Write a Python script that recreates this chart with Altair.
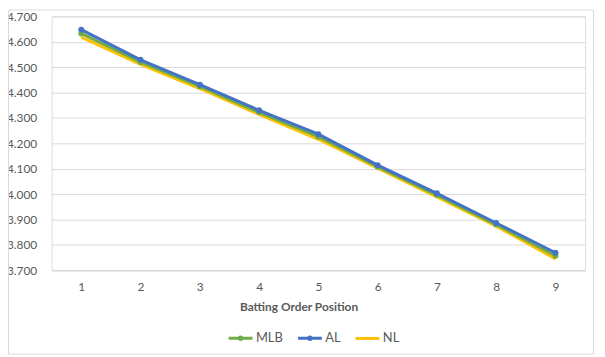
import altair as alt
import pandas as pd

positions = [1, 2, 3, 4, 5, 6, 7, 8, 9]
series_names = ["MLB", "AL", "NL"]
mlb = [4.633, 4.520, 4.424, 4.322, 4.226, 4.108, 3.996, 3.880, 3.757]
al = [4.648, 4.529, 4.431, 4.330, 4.236, 4.114, 4.003, 3.886, 3.769]
nl = [4.618, 4.511, 4.416, 4.314, 4.216, 4.102, 3.989, 3.874, 3.745]
colors = ["#70AD47", "#4472C4", "#FFC000"]

rows = []
for name, vals in zip(series_names, [mlb, al, nl]):
    for p, v in zip(positions, vals):
        rows.append({"pos": p, "value": v, "series": name})
df = pd.DataFrame(rows)

FONT = "Lato"
GRAY = "#595959"

circ = "M-1,0H1M0.11,0A0.11,0.11,0,1,1,-0.11,0A0.11,0.11,0,1,1,0.11,0Z"
plain = "M-1,0H1"

legend = alt.Legend(
    title=None,
    orient="none",
    direction="horizontal",
    legendX=177,
    legendY=311,
    padding=0,
    symbolSize=576,
    symbolStrokeWidth=3,
    labelOffset=2,
    columnPadding=8,
    labelFont=FONT,
    labelFontSize=13,
    labelColor=GRAY,
)
cscale = alt.Scale(domain=series_names, range=colors)
color = alt.Color("series:N", scale=cscale, sort=series_names, legend=legend)

x = alt.X(
    "pos:O",
    title="Batting Order Position",
    scale=alt.Scale(paddingInner=0, paddingOuter=0.5),
    axis=alt.Axis(
        labelAngle=0,
        ticks=False,
        domain=True,
        domainColor="#D9D9D9",
        grid=False,
        labelPadding=11,
        labelFont=FONT,
        labelFontSize=12,
        labelColor=GRAY,
        titleFont=FONT,
        titleFontSize=12,
        titleFontWeight="bold",
        titleColor=GRAY,
        titleX=249,
        titleY=32,
        titleAnchor="start",
        titleAlign="center",
    ),
)
y = alt.Y(
    "value:Q",
    title=None,
    scale=alt.Scale(domain=[3.7, 4.7], nice=False, zero=False),
    axis=alt.Axis(
        values=[3.7, 3.8, 3.9, 4.0, 4.1, 4.2, 4.3, 4.4, 4.5, 4.6, 4.7],
        format=".3f",
        ticks=False,
        domain=False,
        gridColor="#D9D9D9",
        gridWidth=1,
        labelPadding=15,
        labelFont=FONT,
        labelFontSize=12,
        labelColor=GRAY,
    ),
)

base = alt.Chart(df)

lines = base.mark_line(strokeWidth=3).encode(x=x, y=y, color=color)
lines_nl = lines.transform_filter("datum.series === 'NL'")
lines_mlb = lines.transform_filter("datum.series === 'MLB'")
lines_al = lines.transform_filter("datum.series === 'AL'")
points = base.mark_point(filled=True, size=36, opacity=1).encode(x=x, y=y, color=color)
pts_mlb = points.transform_filter("datum.series === 'MLB'")
pts_al = points.transform_filter("datum.series === 'AL'")

legend_layer = base.mark_point(filled=True, opacity=1, strokeWidth=3).encode(
    x=x, y=y, color=color,
    shape=alt.Shape("series:N", scale=alt.Scale(domain=series_names, range=[circ, circ, plain]), legend=legend),
    stroke=alt.Stroke("series:N", scale=cscale, legend=legend),
).transform_filter("false")

border = alt.Chart(pd.DataFrame({"a": [0]})).mark_rect(
    fill=None, stroke="#D9D9D9", strokeWidth=1, clip=False
).encode(
    x=alt.value(-43.5), x2=alt.value(546.5), y=alt.value(-6.5), y2=alt.value(340.5)
)

chart = alt.layer(border, lines_nl, lines_mlb, pts_mlb, lines_al, pts_al, legend_layer).properties(
    width=538,
    height=256,
    padding={"left": 44, "top": 7, "right": 12, "bottom": 85},
    autosize=alt.AutoSizeParams(type="none"),
).configure_view(stroke=None).configure(background="white")

chart.save("out.html", embed_options={"renderer": "svg", "actions": False})
